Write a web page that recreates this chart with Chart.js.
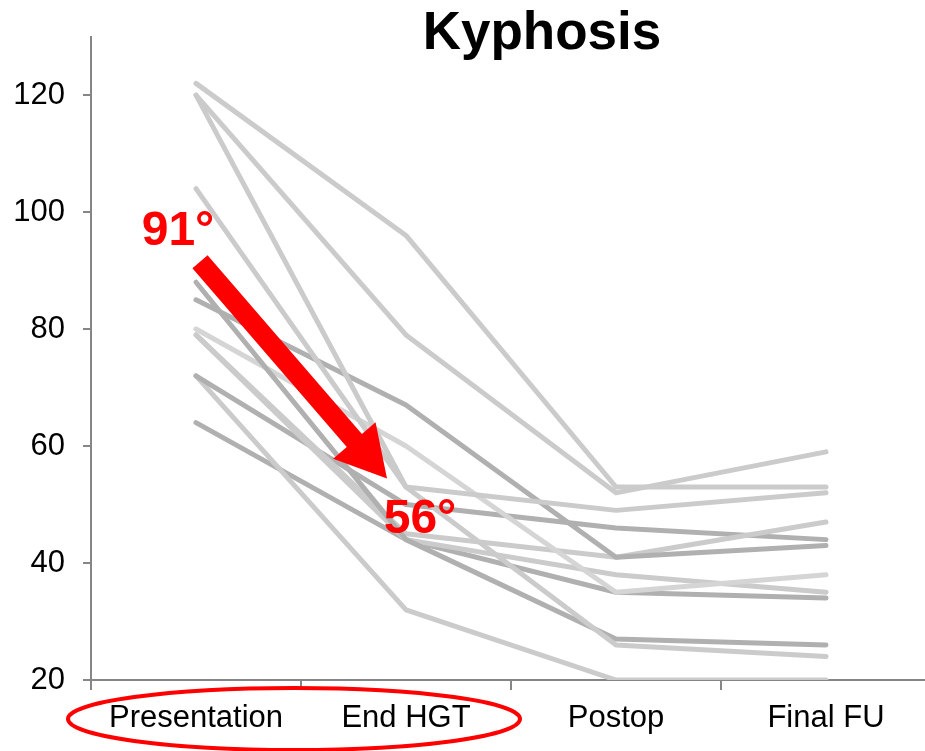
<!DOCTYPE html>
<html>
<head>
<meta charset="utf-8">
<script src="https://cdn.jsdelivr.net/npm/chart.js@4.4.1/dist/chart.umd.min.js"></script>
<style>
  html, body { margin: 0; padding: 0; background: #fff; overflow: hidden; }
  #wrap { width: 931px; height: 751px; }
</style>
</head>
<body>
<div id="wrap"><canvas id="grafico" width="931" height="751"></canvas></div>
<script>
// categorias e valores (graus de cifose por paciente)
const fases = ['Presentation', 'End HGT', 'Postop', 'Final FU'];
const pac1 = [122, 96, 53, 53];
const pac2 = [120, 79, 52, 59];
const pac3 = [120, 53, 49, 52];
const pac4 = [104, 53, 26, 24];
const pac5 = [88, 44, 27, 26];
const pac6 = [85, 67, 41, 43];
const pac7 = [80, 60, 35, 38];
const pac8 = [79, 45, 41, 47];
const pac9 = [79, 44, 38, 35];
const pac10 = [72, 50, 46, 44];
const pac11 = [72, 32, 20, 20];
const pac12 = [64, 44, 35, 34];
const ticksY = [20, 40, 60, 80, 100, 120];

// media antes / depois (seta vermelha)
const mediaInicio = 91;
const mediaFim = 56;

const claro = '#cbcbcb';
const escuro = '#b0b0b0';
const maisClaro = '#d5d5d5';

const series = [
    [pac1, claro], [pac2, claro], [pac3, claro], [pac4, claro],
    [pac5, escuro], [pac6, escuro], [pac7, maisClaro], [pac8, claro],
    [pac9, claro], [pac10, escuro], [pac11, claro], [pac12, escuro]
];

const fonte = '"Liberation Sans", Arial, sans-serif';

const anotacoes = {
    id: 'anotacoes',
    afterDatasetsDraw(chart) {
        const ctx = chart.ctx;
        const x = chart.scales.x, y = chart.scales.y;

        // seta
        const x0 = x.getPixelForValue(0) + 4, y0 = y.getPixelForValue(mediaInicio) - 3;
        const x1 = x.getPixelForValue(1) - 19, y1 = y.getPixelForValue(mediaFim) + 9;
        const ang = Math.atan2(y1 - y0, x1 - x0);
        const len = Math.hypot(x1 - x0, y1 - y0);
        const cab = 50, meiaCab = 28, meiaHaste = 10;
        ctx.save();
        ctx.translate(x0, y0);
        ctx.rotate(ang);
        ctx.fillStyle = '#ff0000';
        ctx.beginPath();
        ctx.moveTo(0, -meiaHaste);
        ctx.lineTo(len - cab, -meiaHaste);
        ctx.lineTo(len - cab, -meiaCab);
        ctx.lineTo(len, 0);
        ctx.lineTo(len - cab, meiaCab);
        ctx.lineTo(len - cab, meiaHaste);
        ctx.lineTo(0, meiaHaste);
        ctx.closePath();
        ctx.fill();
        ctx.restore();

        ctx.save();
        ctx.fillStyle = '#ff0000';
        ctx.font = 'bold 48px ' + fonte;
        ctx.textAlign = 'center';
        ctx.textBaseline = 'middle';
        ctx.fillText(mediaInicio + '°', x.getPixelForValue(0) - 18, y.getPixelForValue(mediaInicio) - 33);
        ctx.fillText(mediaFim + '°', x.getPixelForValue(1) + 14, y.getPixelForValue(mediaFim) + 50);
        ctx.restore();
    },
    afterDraw(chart) {
        const ctx = chart.ctx;
        ctx.save();
        ctx.fillStyle = '#000';
        ctx.font = 'bold 53px ' + fonte;
        ctx.textAlign = 'center';
        ctx.textBaseline = 'middle';
        ctx.fillText('Kyphosis', 542, 34);

        // elipse em volta de Presentation / End HGT
        ctx.strokeStyle = '#ff0000';
        ctx.lineWidth = 4;
        ctx.beginPath();
        ctx.ellipse(294, 719, 226, 31, 0, 0, Math.PI * 2);
        ctx.stroke();
        ctx.restore();
    }
};

new Chart(document.getElementById('grafico'), {
    type: 'line',
    data: {
        labels: fases,
        datasets: series.map(([dados, cor]) => ({
            data: dados,
            borderColor: cor,
            borderWidth: 5,
            pointRadius: 0,
            borderCapStyle: 'round',
            borderJoinStyle: 'round',
            tension: 0
        }))
    },
    options: {
        responsive: false,
        animation: false,
        events: [],
        layout: { padding: { top: 35, left: 0, right: 0, bottom: 0 } },
        plugins: { legend: { display: false }, title: { display: false }, tooltip: { enabled: false } },
        scales: {
            x: {
                offset: true,
                grid: { offset: true, drawOnChartArea: false, drawTicks: true, tickLength: 10, color: '#868686', lineWidth: 2 },
                border: { color: '#868686', width: 2 },
                ticks: { color: '#000', font: { family: fonte, size: 31 }, padding: 10, maxRotation: 0 },
                afterFit(s) { s.height = 71; }
            },
            y: {
                min: 20,
                max: 130,
                afterBuildTicks(s) { s.ticks = ticksY.map(v => ({ value: v })); },
                grid: { drawOnChartArea: false, drawTicks: true, tickLength: 8, color: '#868686', lineWidth: 2 },
                border: { color: '#868686', width: 2 },
                ticks: { color: '#000', font: { family: fonte, size: 31 }, padding: 18 },
                afterFit(s) { s.width = 91; }
            }
        }
    },
    plugins: [anotacoes]
});
</script>
</body>
</html>
